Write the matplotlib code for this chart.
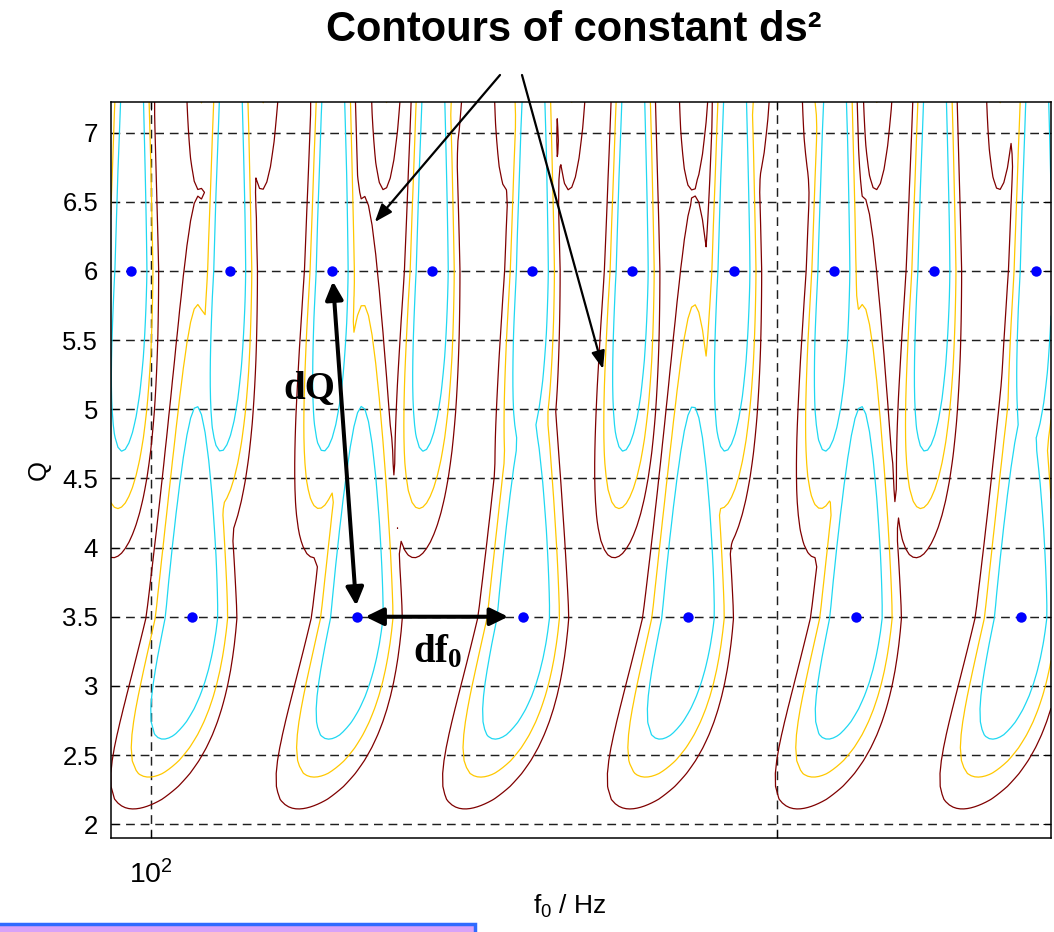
import numpy as np
import matplotlib.pyplot as plt
from matplotlib.patches import Rectangle

plt.rcParams["font.family"] = ["Liberation Sans", "DejaVu Sans"]
plt.rcParams["mathtext.fontset"] = "custom"
plt.rcParams["mathtext.rm"] = "Liberation Sans"
plt.rcParams["mathtext.it"] = "Liberation Sans:italic"
plt.rcParams["mathtext.bf"] = "Liberation Serif:bold"

# Tile centres (Hz) of the three Q planes
q_planes = [3.5, 6.0, 10.3]
f0_q35 = [87.1, 104.6, 125.6, 151.0, 181.2, 218.2, 261.8, 314.5]
f0_q6 = [87.5, 97.8, 109.1, 122.2, 136.5, 152.5, 170.3, 190.6, 212.9, 237.8, 266.3, 297.4]
f0_q103 = [92.9, 99.4, 106.3, 113.9, 121.9, 130.4, 139.6, 149.4, 160.0, 171.2,
           183.3, 196.2, 210.0, 224.7, 240.5, 257.5, 275.6, 294.9]
plane_f0 = [f0_q35, f0_q6, f0_q103]
# how fast ds^2 grows below each plane (per unit ln Q squared)
plane_down_stiffness = [0.035, 0.05, 0.045]
up_stiffness = 0.023

# ds^2 levels and their line colours
ds2_levels = [0.003, 0.0057, 0.009]
level_colors = ["#1fd8f2", "#ffc800", "#7f0000"]

f_lim = (95.64, 270.7)
q_lim = (1.9, 7.222)
y_ticks = [2, 2.5, 3, 3.5, 4, 4.5, 5, 5.5, 6, 6.5, 7]
x_ticks = [100, 200]
x_ticklabels = ["$10^2$", ""]


def tile_ds2(lnf, q, f_tile, q_tile, down):
    # distance to one tile: f0 term widens as Q drops, Q term is lopsided
    v = np.log(q / q_tile)
    tilt = np.where(v < 0, 1.2, 0.3) * v / (2 + q * q_tile)
    du = lnf - np.log(f_tile) - tilt
    stretch = np.where(v < 0, down, up_stiffness)
    return (2 + q ** 2) / 4 * du ** 2 + stretch * v ** 2


lnf_grid = np.linspace(np.log(f_lim[0]), np.log(f_lim[1]), 260)
q_grid = np.linspace(q_lim[0], q_lim[1], 58)
LNF, QQ = np.meshgrid(lnf_grid, q_grid)

ds2 = np.full(LNF.shape, np.inf)
for q_tile, f_list, down in zip(q_planes, plane_f0, plane_down_stiffness):
    for f_tile in f_list:
        ds2 = np.minimum(ds2, tile_ds2(LNF, QQ, f_tile, q_tile, down))

fig = plt.figure(figsize=(10.54, 9.32), dpi=100)
ax = fig.add_axes([110.7 / 1054, 94 / 932, 940.3 / 1054, 736 / 932])

ax.contour(np.exp(LNF), QQ, ds2, levels=ds2_levels, colors=level_colors,
           linewidths=0.9)

for q_tile, f_list in zip(q_planes, plane_f0):
    ax.plot(f_list, [q_tile] * len(f_list), "o", color="#0000ff", ms=7.5,
            mec="none", zorder=5)

ax.set_xscale("log")
ax.set_xlim(*f_lim)
ax.set_ylim(*q_lim)
ax.set_xticks(x_ticks)
ax.set_xticklabels(x_ticklabels)
ax.xaxis.set_minor_locator(plt.NullLocator())
ax.set_yticks(y_ticks)
ax.set_yticklabels([f"{t:g}" for t in y_ticks])
ax.tick_params(direction="in", length=6, width=0.8, labelsize=18.5,
               top=True, right=True, pad=9)
ax.tick_params(axis="x", labelsize=20.5, pad=16)
ax.grid(True, color="0.12", ls=(0, (6, 4)), lw=1.05)
for sp in ax.spines.values():
    sp.set_linewidth(1.1)

ax.set_ylabel("Q", fontsize=18.5, labelpad=8)
fig.text(570 / 1054, 1 - 906 / 932, "f$_0$ / Hz", fontsize=19,
         ha="center", va="center")

# title and pointers to two of the contours
fig.text(574 / 1054, 1 - 30 / 932, "Contours of constant ds²", fontsize=30,
         fontweight="bold", ha="center", va="center")
thin = dict(arrowstyle="-|>,head_length=0.4,head_width=0.15", color="k",
            lw=1.6, mutation_scale=27, shrinkA=0, shrinkB=0)
ax.annotate("", xy=(128.1, 6.354), xytext=(500 / 1054, 1 - 75 / 932),
            textcoords="figure fraction", arrowprops=thin)
ax.annotate("", xy=(164.9, 5.291), xytext=(522 / 1054, 1 - 75 / 932),
            textcoords="figure fraction", arrowprops=thin)

# spacing between neighbouring tiles
thick = dict(arrowstyle="<|-|>,head_length=0.45,head_width=0.22", color="k",
             lw=2.9, mutation_scale=24)
ax.annotate("", xy=(f0_q6[3], 6.0), xytext=(f0_q35[2], 3.5),
            arrowprops=dict(thick, shrinkA=8, shrinkB=7.5))
ax.annotate("", xy=(f0_q35[2], 3.5), xytext=(f0_q35[3], 3.5),
            arrowprops=dict(thick, shrinkA=11, shrinkB=6))
ax.text(119.2, 5.082, "dQ", family="Liberation Serif", fontweight="bold",
        fontsize=28, ha="center", va="baseline")
ax.text(133.6, 3.173, r"$\mathbf{df_0}$", fontsize=28, ha="left",
        va="baseline")

fig.patches.append(Rectangle((-10 / 1054, -10 / 932), 485 / 1054, 18 / 932,
                             transform=fig.transFigure, facecolor="#d8a2f8",
                             edgecolor="#2f6bff", lw=2.5))

fig.savefig("out.png", dpi=100)
